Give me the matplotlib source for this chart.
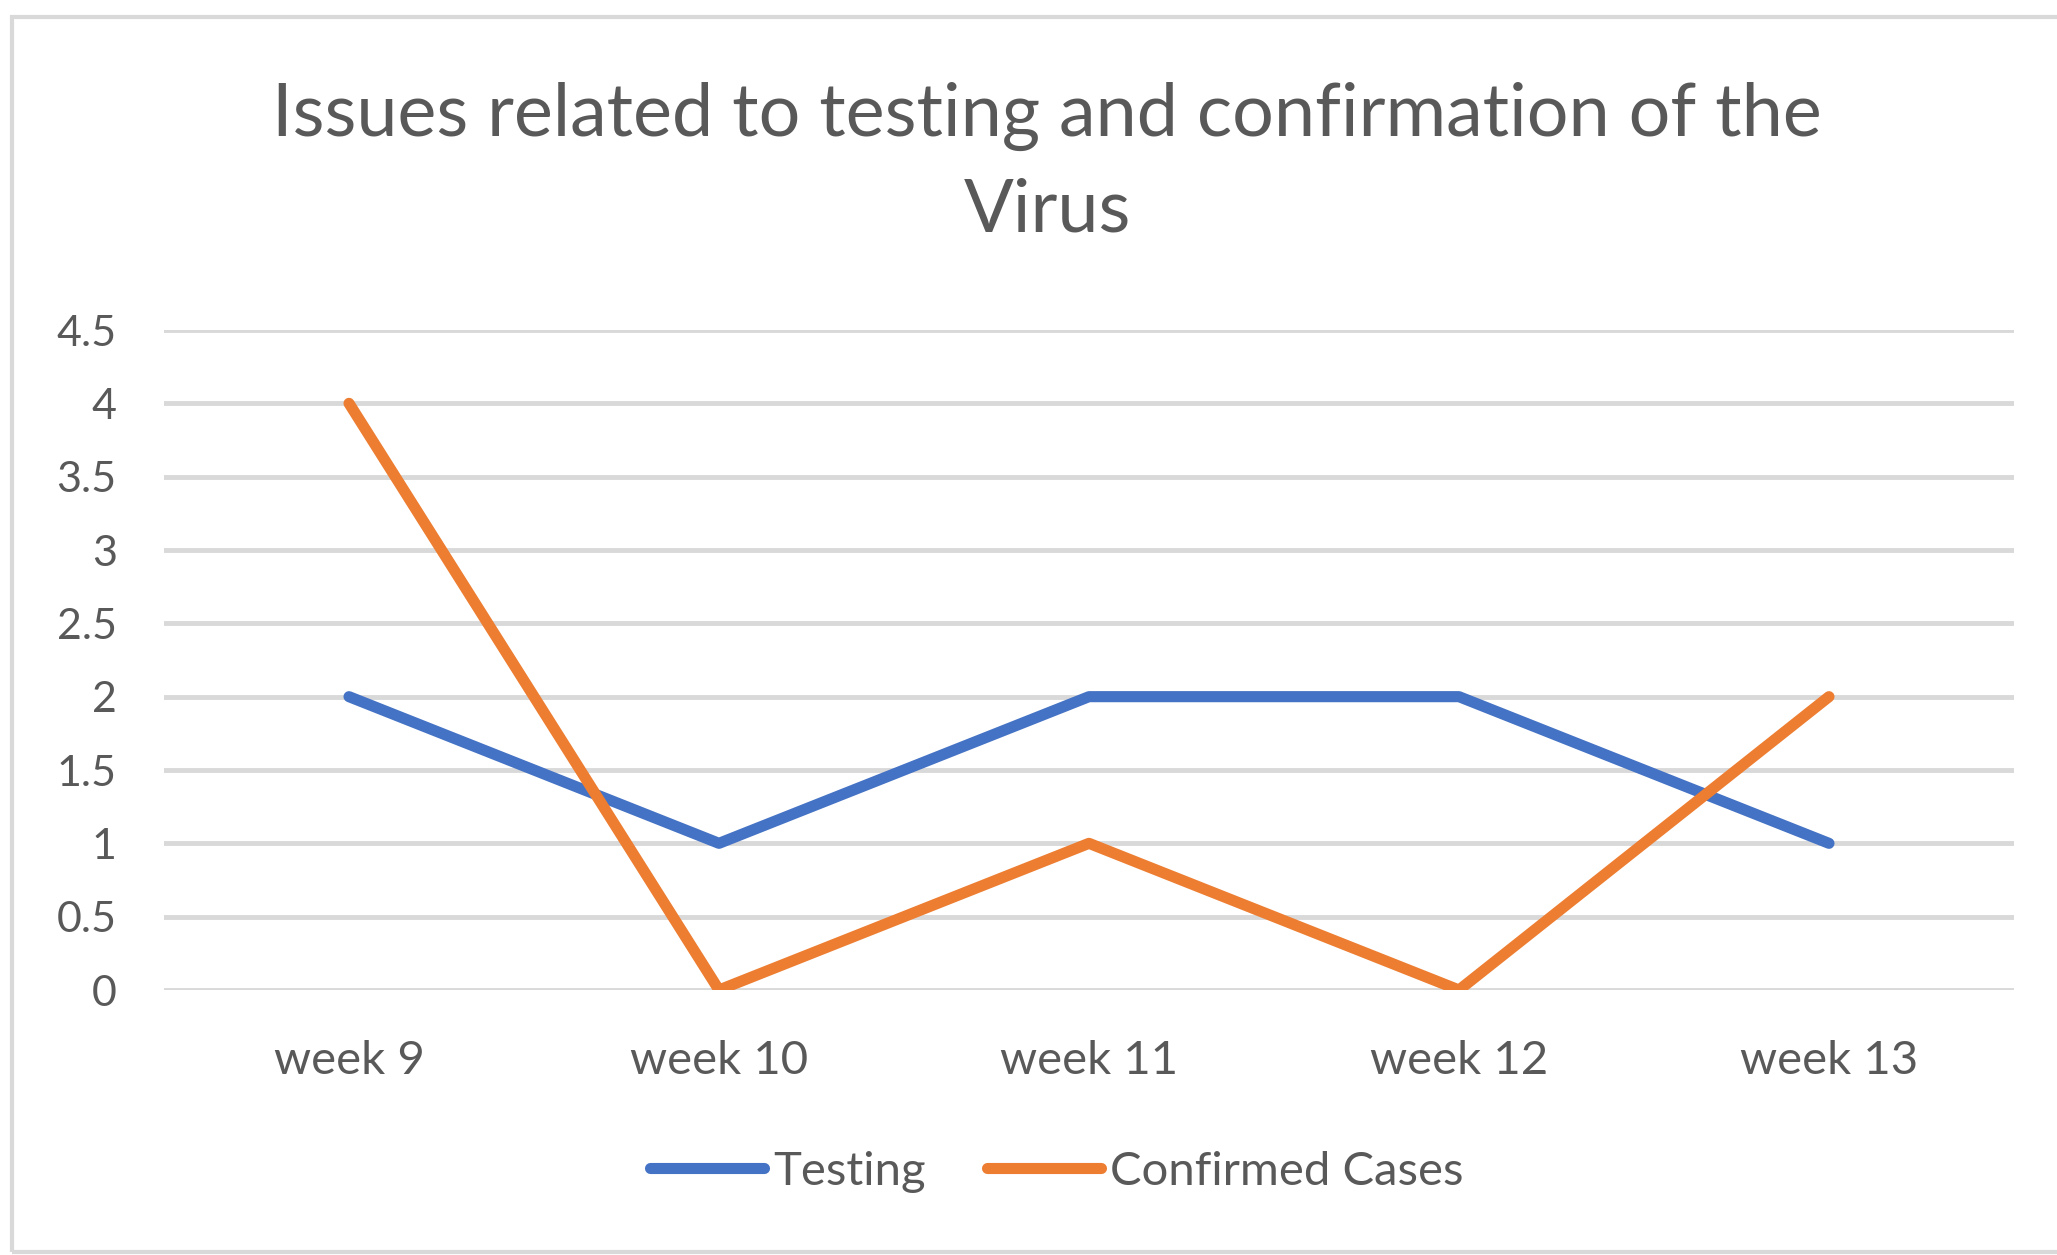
import matplotlib
matplotlib.use("Agg")
import matplotlib.pyplot as plt
from matplotlib.patches import Rectangle

categories = ["week 9", "week 10", "week 11", "week 12", "week 13"]
testing = [2, 1, 2, 2, 1]
confirmed = [4, 0, 1, 0, 2]
yticks = [0, 0.5, 1, 1.5, 2, 2.5, 3, 3.5, 4, 4.5]
ytick_labels = ["0", "0.5", "1", "1.5", "2", "2.5", "3", "3.5", "4", "4.5"]

plt.rcParams['font.family'] = ['Lato', 'DejaVu Sans']
TXT = '#595959'
GRID = '#D9D9D9'

W, H = 2057, 1255
fig = plt.figure(figsize=(W / 100, H / 100), dpi=100)
fig.patch.set_facecolor('white')

# chart frame (right edge cut off)
fig.patches.append(Rectangle((12 / W, 1 - 1252 / H), 2.0, (1252 - 17) / H,
                             transform=fig.transFigure, fill=False,
                             edgecolor=GRID, linewidth=3, clip_on=False))

ax = fig.add_axes([164 / W, 1 - 990 / H, (2014 - 164) / W, (990 - 330) / H])
x = list(range(len(categories)))
ax.plot(x, testing, color='#4472C4', linewidth=8, label='Testing',
        solid_capstyle='round', solid_joinstyle='round', zorder=3)
ax.plot(x, confirmed, color='#ED7D31', linewidth=8, label='Confirmed Cases',
        solid_capstyle='round', solid_joinstyle='round', zorder=3)

ax.set_xlim(-0.5, len(categories) - 0.5)
ax.set_ylim(0, 4.5)
ax.set_yticks(yticks)
ax.set_yticklabels(ytick_labels)
ax.set_xticks(x)
ax.set_xticklabels(categories)
for s in ax.spines.values():
    s.set_visible(False)
ax.tick_params(axis='both', length=0, colors=TXT)
ax.tick_params(axis='y', pad=34, labelsize=31)
ax.tick_params(axis='x', pad=36, labelsize=34)
ax.grid(axis='y', color=GRID, linewidth=3.5)
ax.set_axisbelow(True)
ax.set_facecolor('none')

fig.text(1047 / W, 1 - 116 / H, "Issues related to testing and confirmation of the",
         ha='center', va='center', fontsize=53, color=TXT)
fig.text(1047 / W, 1 - 211 / H, "Virus",
         ha='center', va='center', fontsize=53, color=TXT)

fig.legend(loc='center', bbox_to_anchor=(1057 / W, 1 - 1172 / H), ncol=2,
           frameon=False, fontsize=34, handlelength=2.4, handletextpad=0.2,
           columnspacing=1.3, labelcolor=TXT)

fig.savefig('out.png', dpi=100, facecolor='white')
